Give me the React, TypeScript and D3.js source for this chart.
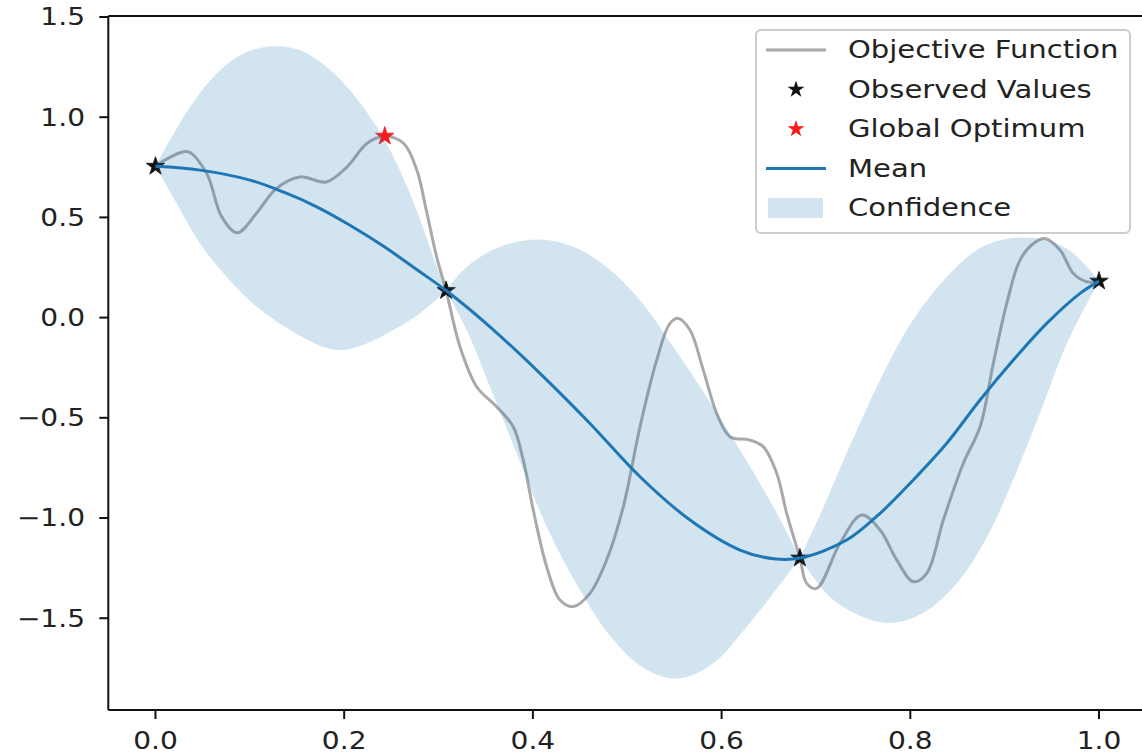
import React from "react";
import * as d3 from "d3";

// Objective function samples
const objX = [0, 0.0154, 0.0348, 0.0543, 0.0702, 0.0867, 0.107, 0.128, 0.153, 0.181, 0.203, 0.224, 0.243, 0.263, 0.277, 0.287, 0.298, 0.308, 0.3227, 0.3404, 0.3616, 0.3792, 0.3898, 0.4004, 0.4146, 0.4287, 0.4428, 0.4605, 0.4782, 0.4958, 0.5135, 0.5312, 0.5453, 0.5541, 0.5665, 0.5806, 0.5948, 0.6088, 0.63, 0.6441, 0.6584, 0.669, 0.683, 0.6902, 0.7008, 0.7255, 0.7485, 0.768, 0.7856, 0.8032, 0.8174, 0.835, 0.8562, 0.8739, 0.888, 0.9022, 0.9163, 0.9304, 0.9428, 0.9587, 0.9728, 0.987, 1.0];
const objY = [0.755, 0.8, 0.827, 0.719, 0.503, 0.423, 0.52, 0.644, 0.702, 0.677, 0.752, 0.869, 0.905, 0.869, 0.736, 0.536, 0.303, 0.135, -0.145, -0.345, -0.445, -0.545, -0.711, -0.96, -1.243, -1.409, -1.442, -1.376, -1.209, -0.944, -0.545, -0.212, -0.029, -0.004, -0.062, -0.262, -0.478, -0.594, -0.611, -0.644, -0.777, -0.977, -1.2, -1.326, -1.351, -1.126, -0.985, -1.06, -1.209, -1.318, -1.276, -1.01, -0.727, -0.545, -0.228, 0.071, 0.287, 0.37, 0.395, 0.337, 0.22, 0.179, 0.182];

// Observations and global optimum
const obsX = [0, 0.308, 0.683, 1.0];
const obsY = [0.755, 0.135, -1.2, 0.182];
const optX = [0.243];
const optY = [0.905];

// Posterior mean
const meanX = [0, 0.0472, 0.1002, 0.1354, 0.1709, 0.2061, 0.2414, 0.2768, 0.308, 0.3545, 0.4075, 0.4605, 0.5135, 0.5665, 0.6195, 0.6548, 0.683, 0.7326, 0.7679, 0.8032, 0.8386, 0.8739, 0.9092, 0.9446, 0.9799, 1.0];
const meanY = [0.755, 0.736, 0.686, 0.627, 0.553, 0.461, 0.357, 0.24, 0.135, -0.046, -0.278, -0.528, -0.794, -1.01, -1.16, -1.203, -1.2, -1.11, -0.977, -0.81, -0.627, -0.411, -0.212, -0.029, 0.121, 0.182];

// Confidence band edges
const upX = [0, 0.0154, 0.0366, 0.0649, 0.0931, 0.1249, 0.1532, 0.1815, 0.2061, 0.2344, 0.2556, 0.2768, 0.2944, 0.308, 0.3298, 0.3651, 0.4075, 0.4428, 0.4782, 0.5135, 0.5488, 0.5842, 0.6195, 0.6548, 0.683, 0.7067, 0.7326, 0.7679, 0.8029, 0.8386, 0.8739, 0.9089, 0.9446, 0.9724, 1.0];
const upY = [0.755, 0.885, 1.051, 1.218, 1.318, 1.354, 1.334, 1.251, 1.135, 0.952, 0.769, 0.536, 0.303, 0.135, 0.253, 0.353, 0.39, 0.353, 0.253, 0.087, -0.146, -0.395, -0.661, -0.944, -1.2, -0.96, -0.676, -0.312, -0.012, 0.203, 0.347, 0.397, 0.387, 0.322, 0.182];
const loX = [0, 0.0225, 0.0472, 0.0755, 0.1073, 0.1426, 0.1778, 0.199, 0.2238, 0.252, 0.2803, 0.308, 0.3298, 0.3545, 0.3828, 0.4146, 0.4499, 0.4852, 0.5206, 0.5559, 0.5912, 0.6266, 0.6548, 0.683, 0.7149, 0.7499, 0.7785, 0.8135, 0.8495, 0.8813, 0.9089, 0.9375, 0.9661, 0.9873, 1.0];
const loY = [0.755, 0.57, 0.37, 0.203, 0.054, -0.062, -0.146, -0.162, -0.129, -0.062, 0.021, 0.135, -0.062, -0.345, -0.677, -1.043, -1.359, -1.608, -1.758, -1.8, -1.725, -1.542, -1.376, -1.2, -1.394, -1.494, -1.524, -1.474, -1.324, -1.095, -0.81, -0.476, -0.127, 0.072, 0.182];

const xTicks = [0, 0.2, 0.4, 0.6, 0.8, 1.0];
const yTicks = [-1.5, -1.0, -0.5, 0, 0.5, 1.0, 1.5];

const legendLabels = ["Objective Function", "Observed Values", "Global Optimum", "Mean", "Confidence"];

const W = 1142;
const H = 756;
const left = 108.3;
const right = 1146.2;
const top = 16;
const bottom = 710;

const BLUE = "#1f77b4";
const FONT = 24;
const TICK_STRETCH = 1.17;
const LEGEND_STRETCH = 1.21;

export default function App() {
  const x = d3.scaleLinear().domain([-0.05, 1.05]).range([left, right]);
  const y = d3.scaleLinear().domain([-1.958, 1.505]).range([bottom, top]);
  const fmt = d3.format(".1f");

  const zip = (xs: number[], ys: number[]) => xs.map((v, i) => [v, ys[i]] as [number, number]);

  const smooth = d3
    .line<[number, number]>()
    .x((d) => x(d[0]))
    .y((d) => y(d[1]))
    .curve(d3.curveCatmullRom.alpha(0.5));

  const objPath = smooth(zip(objX, objY)) || "";
  const meanPath = smooth(zip(meanX, meanY)) || "";

  // band: one closed piece between each pair of neighbouring observations
  const upPts = zip(upX, upY);
  const loPts = zip(loX, loY);
  let bandPath = "";
  for (let i = 0; i < obsX.length - 1; i++) {
    const a = obsX[i];
    const b = obsX[i + 1];
    const u = upPts.filter((p) => p[0] >= a - 1e-9 && p[0] <= b + 1e-9);
    const l = loPts.filter((p) => p[0] >= a - 1e-9 && p[0] <= b + 1e-9).reverse();
    const up = smooth(u) || "";
    const lo = (smooth(l) || "").replace(/^M/, "L");
    bandPath += up + lo + "Z";
  }

  const star = d3.symbol(d3.symbolStar, 105)() || "";
  const starSmall = d3.symbol(d3.symbolStar, 90)() || "";

  const legX = 756;
  const legY = 30;
  const legW = 374;
  const legH = 203;
  const rowY = [50, 89.5, 129, 168.5, 208];

  return (
    <svg
      width={W}
      height={H}
      style={{ position: "absolute", left: 0, top: 0, background: "#fff" }}
      fontFamily="DejaVu Sans"
    >
      <rect x={0} y={0} width={W} height={H} fill="#fff" />
      <defs>
        <clipPath id="plot">
          <rect x={left} y={top} width={right - left} height={bottom - top} />
        </clipPath>
      </defs>

      <g clipPath="url(#plot)">
        <path d={objPath} fill="none" stroke="#8c8c8c" strokeOpacity={0.75} strokeWidth={3} />
        {obsX.map((v, i) => (
          <path key={i} d={star} transform={`translate(${x(v)},${y(obsY[i])})`} fill="#111" stroke="#111" strokeWidth={0.8} />
        ))}
        {optX.map((v, i) => (
          <path key={i} d={star} transform={`translate(${x(v)},${y(optY[i])})`} fill="#ff1a1a" stroke="#ff1a1a" strokeWidth={0.8} />
        ))}
        <path d={meanPath} fill="none" stroke={BLUE} strokeWidth={3} />
        <path d={bandPath} fill={BLUE} fillOpacity={0.2} stroke="none" />
      </g>

      {/* spines */}
      <g stroke="#111" strokeWidth={2} fill="none">
        <line x1={left} x2={left} y1={top} y2={bottom} />
        <line x1={right} x2={right} y1={top} y2={bottom} />
        <line x1={left} x2={right} y1={top} y2={top} />
        <line x1={left} x2={right} y1={bottom} y2={bottom} />
      </g>

      {/* x axis */}
      {xTicks.map((t) => (
        <g key={t} transform={`translate(${x(t)},0)`}>
          <line y1={bottom} y2={bottom + 9} stroke="#111" strokeWidth={2} />
          <text transform={`translate(0,749) scale(${TICK_STRETCH},1)`} textAnchor="middle" fontSize={FONT} fill="#222">
            {fmt(t)}
          </text>
        </g>
      ))}

      {/* y axis */}
      {yTicks.map((t) => (
        <g key={t} transform={`translate(0,${y(t)})`}>
          <line x1={left - 9} x2={left} stroke="#111" strokeWidth={2} />
          <text transform={`translate(85,0) scale(${TICK_STRETCH},1)`} dy="0.35em" textAnchor="end" fontSize={FONT} fill="#222">
            {fmt(t)}
          </text>
        </g>
      ))}

      {/* legend */}
      <rect x={legX} y={legY} width={legW} height={legH} rx={5} fill="#fff" fillOpacity={0.8} stroke="#cccccc" strokeWidth={2} />
      <line x1={766} x2={826} y1={rowY[0]} y2={rowY[0]} stroke="#8c8c8c" strokeOpacity={0.75} strokeWidth={3} />
      <path d={starSmall} transform={`translate(796,${rowY[1]})`} fill="#111" />
      <path d={starSmall} transform={`translate(796,${rowY[2]})`} fill="#ff1a1a" />
      <line x1={766} x2={826} y1={rowY[3]} y2={rowY[3]} stroke={BLUE} strokeWidth={3} />
      <rect x={768} y={rowY[4] - 10} width={55} height={20} fill={BLUE} fillOpacity={0.2} />
      {legendLabels.map((s, i) => (
        <text
          key={s}
          transform={`translate(848,${rowY[i]}) scale(${LEGEND_STRETCH},1)`}
          dy="0.35em"
          fontSize={FONT}
          fill="#222"
        >
          {s}
        </text>
      ))}
    </svg>
  );
}
